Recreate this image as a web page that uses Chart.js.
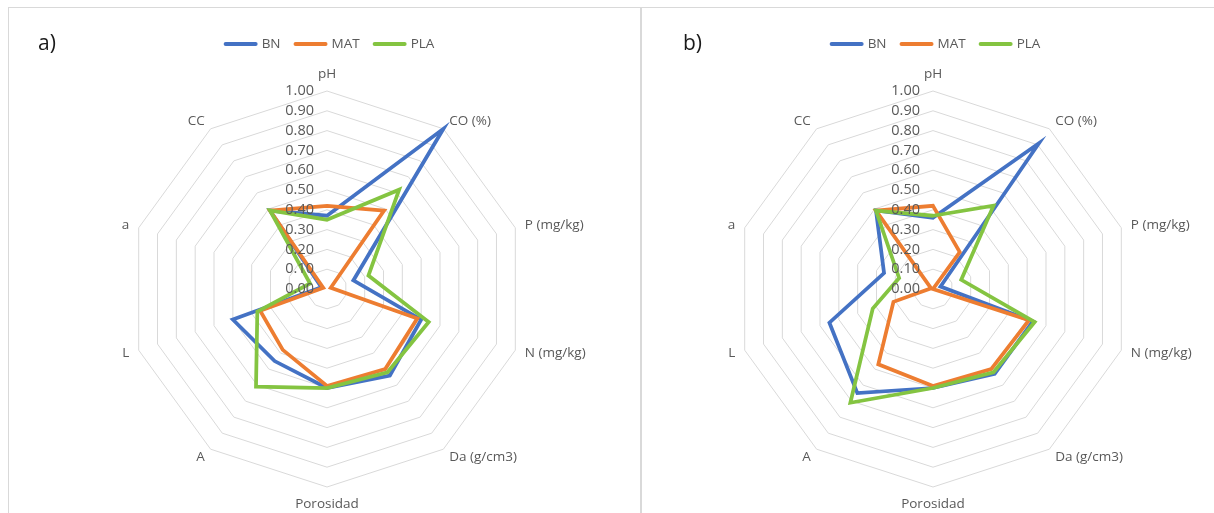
<!DOCTYPE html>
<html>
<head>
<meta charset="utf-8">
<script src="https://cdn.jsdelivr.net/npm/chart.js@4.4.0/dist/chart.umd.min.js"></script>
<style>
  body { margin: 0; background: #ffffff; width: 1214px; height: 513px; overflow: hidden; position: relative; }
  .frame { position: absolute; border: 1px solid #d9d9d9; }
  canvas { position: absolute; top: 0; }
</style>
</head>
<body>
<div class="frame" style="left:8px; top:7px; width:632px; height:600px;"></div>
<div class="frame" style="left:640px; top:7px; width:620px; height:600px;"></div>
<canvas id="chart-a" width="630" height="513" style="left:0px"></canvas>
<canvas id="chart-b" width="600" height="513" style="left:606px"></canvas>
<script>
const labels = ['pH', 'CO (%)', 'P (mg/kg)', 'N (mg/kg)', 'Da (g/cm3)', 'Porosidad', 'A', 'L', 'a', 'CC'];
const series_names = ['BN', 'MAT', 'PLA'];
const series_color = ['#4472c4', '#ed7d31', '#84c441'];

// panel a)
const bn_a = [0.37, 1.00, 0.14, 0.50, 0.54, 0.50, 0.45, 0.50, 0.03, 0.49];
const mat_a = [0.42, 0.49, 0.02, 0.48, 0.50, 0.49, 0.38, 0.355, 0.02, 0.49];
const pla_a = [0.35, 0.62, 0.22, 0.54, 0.52, 0.50, 0.61, 0.37, 0.09, 0.49];

// panel b)
const bn_b = [0.36, 0.91, 0.04, 0.53, 0.53, 0.50, 0.65, 0.55, 0.26, 0.49];
const mat_b = [0.42, 0.23, 0.00, 0.51, 0.50, 0.49, 0.47, 0.21, 0.01, 0.49];
const pla_b = [0.37, 0.52, 0.15, 0.54, 0.52, 0.50, 0.71, 0.32, 0.18, 0.49];

const scale_min = 0;
const scale_max = 1;
const scale_step = 0.1;

const text_color = '#595959';
const font_family = '"Open Sans", "Liberation Sans", sans-serif';

// tick labels, category labels, legend and panel letter
const extras = {
  id: 'extras',
  afterDraw: function (chart, args, opts) {
    var ctx = chart.ctx;
    var scale = chart.scales.r;
    ctx.save();

    ctx.font = '14.5px ' + font_family;
    ctx.fillStyle = text_color;
    ctx.textAlign = 'right';
    ctx.textBaseline = 'middle';
    scale.ticks.forEach(function (t) {
      var d = scale.getDistanceFromCenterForValue(t.value);
      ctx.fillText(t.value.toFixed(2), scale.xCenter - 13, scale.yCenter - d);
    });

    ctx.font = '13.5px ' + font_family;
    chart.data.labels.forEach(function (lbl, i) {
      var p = scale.getPointPosition(i, scale.drawingArea + 10);
      var dx = p.x - scale.xCenter;
      var dy = p.y - scale.yCenter;
      if (Math.abs(dx) < 2) {
        ctx.textAlign = 'center';
        ctx.textBaseline = dy < 0 ? 'bottom' : 'top';
      } else {
        ctx.textAlign = dx > 0 ? 'left' : 'right';
        ctx.textBaseline = 'middle';
      }
      ctx.fillText(lbl, p.x, p.y);
    });

    // legend
    var line_w = 34, gap = 4, item_gap = 13;
    var widths = chart.data.datasets.map(function (ds) { return line_w + gap + ctx.measureText(ds.label).width; });
    var total = widths.reduce(function (a, b) { return a + b; }) + item_gap * (widths.length - 1);
    var x = scale.xCenter + 2 - total / 2;
    var y = 44;
    ctx.textAlign = 'left';
    ctx.textBaseline = 'middle';
    chart.data.datasets.forEach(function (ds, i) {
      ctx.strokeStyle = ds.borderColor;
      ctx.lineWidth = 4;
      ctx.lineCap = 'round';
      ctx.beginPath();
      ctx.moveTo(x + 2, y);
      ctx.lineTo(x + line_w - 2, y);
      ctx.stroke();
      ctx.fillStyle = text_color;
      ctx.fillText(ds.label, x + line_w + gap, y);
      x += widths[i] + item_gap;
    });

    ctx.font = '21px ' + font_family;
    ctx.fillStyle = '#1a1a1a';
    ctx.textAlign = 'left';
    ctx.fillText(opts.letter, opts.letter_x, 44);
    ctx.restore();
  }
};

function makeRadar(id, data_list, letter, letter_x, pad_right) {
  var datasets = [];
  for (var i = 0; i < series_names.length; i++) {
    datasets.push({
      label: series_names[i],
      data: data_list[i],
      borderColor: series_color[i],
      backgroundColor: series_color[i],
      borderWidth: 3.75,
      pointRadius: 0,
      pointHoverRadius: 0,
      fill: false,
      order: series_names.length - i
    });
  }
  return new Chart(document.getElementById(id), {
    type: 'radar',
    data: { labels: labels, datasets: datasets },
    plugins: [extras],
    options: {
      responsive: false,
      animation: false,
      layout: { padding: { left: 129, top: 91, right: pad_right, bottom: 26 } },
      plugins: {
        legend: { display: false },
        tooltip: { enabled: false },
        extras: { letter: letter, letter_x: letter_x }
      },
      scales: {
        r: {
          min: scale_min,
          max: scale_max,
          ticks: { stepSize: scale_step, display: false },
          grid: { color: '#d9d9d9', lineWidth: 1 },
          angleLines: { display: false },
          pointLabels: { display: false }
        }
      }
    }
  });
}

makeRadar('chart-a', [bn_a, mat_a, pla_a], 'a)', 38, 105);
makeRadar('chart-b', [bn_b, mat_b, pla_b], 'b)', 77, 75);
</script>
</body>
</html>
